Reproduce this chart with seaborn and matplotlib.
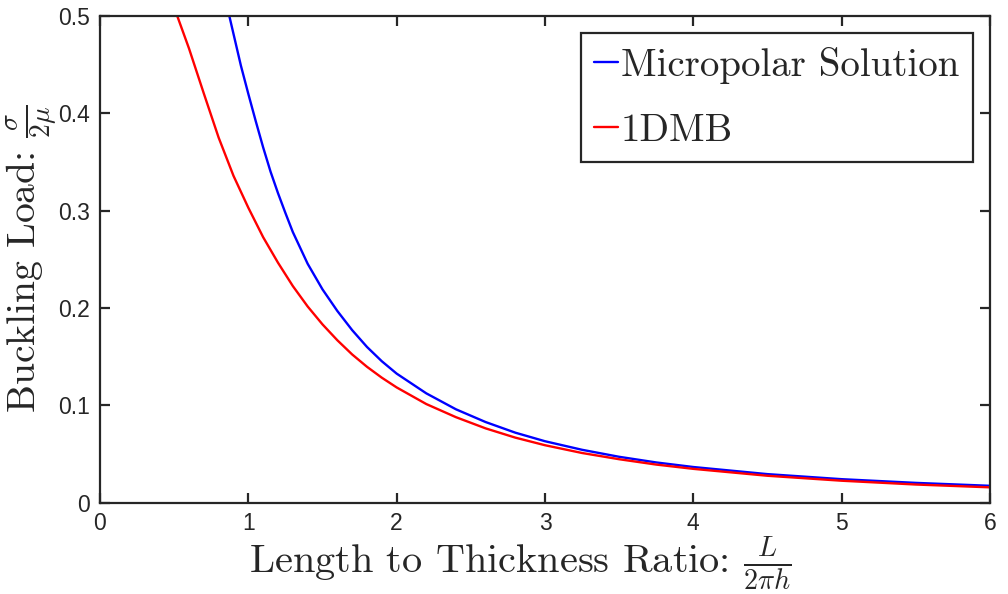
import numpy as np
import pandas as pd
import matplotlib
matplotlib.use("Agg")
import matplotlib.pyplot as plt
from matplotlib.ticker import FuncFormatter, MultipleLocator
import seaborn as sns

# Buckling load sigma/(2 mu) versus length-to-thickness ratio L/(2 pi h)
micropolar_x = [0.872, 0.95, 1.0, 1.05, 1.1, 1.15, 1.2, 1.25, 1.3, 1.4,
                1.5, 1.6, 1.7, 1.8, 1.9, 2.0, 2.2, 2.4, 2.6, 2.8,
                3.0, 3.25, 3.5, 3.75, 4.0, 4.5, 5.0, 5.5, 6.0]
micropolar_y = [0.500, 0.449, 0.420, 0.392, 0.365, 0.340, 0.318, 0.2976, 0.278, 0.2454,
                0.2191, 0.1969, 0.1772, 0.1599, 0.1452, 0.1325, 0.1122, 0.0958, 0.0827, 0.0718,
                0.0630, 0.0542, 0.0470, 0.0412, 0.0365, 0.0292, 0.0240, 0.0202, 0.0172]

dmb_x = [0.521, 0.6, 0.7, 0.8, 0.9, 1.0, 1.1, 1.2, 1.3, 1.4,
         1.5, 1.6, 1.7, 1.8, 1.9, 2.0, 2.2, 2.4, 2.6, 2.8,
         3.0, 3.25, 3.5, 3.75, 4.0, 4.5, 5.0, 5.5, 6.0]
dmb_y = [0.500, 0.4667, 0.4204, 0.375, 0.3358, 0.303, 0.2727, 0.2465, 0.2225, 0.2015,
         0.1831, 0.1668, 0.1522, 0.1395, 0.1283, 0.1183, 0.1012, 0.0877, 0.0762, 0.0667,
         0.0589, 0.0509, 0.0445, 0.0390, 0.0346, 0.0275, 0.0224, 0.0185, 0.0156]

series_names = ["Micropolar Solution", "1DMB"]
series_colors = ["#0000ff", "#ff0000"]

df = pd.concat([
    pd.DataFrame({"ratio": micropolar_x, "load": micropolar_y, "model": series_names[0]}),
    pd.DataFrame({"ratio": dmb_x, "load": dmb_y, "model": series_names[1]}),
], ignore_index=True)

sns.set_theme(style="ticks")
plt.rcParams.update({
    "font.family": ["Liberation Sans", "DejaVu Sans"],
    "mathtext.fontset": "cm",
    "axes.edgecolor": "#262626",
    "axes.linewidth": 1.6,
    "xtick.color": "#262626",
    "ytick.color": "#262626",
    "xtick.direction": "in",
    "ytick.direction": "in",
    "xtick.major.size": 7,
    "ytick.major.size": 7,
    "xtick.major.width": 1.6,
    "ytick.major.width": 1.6,
    "xtick.top": True,
    "ytick.right": True,
})

fig = plt.figure(figsize=(10.08, 5.94), dpi=100)
ax = fig.add_axes([0.0992, 0.154, 0.8829, 0.819])

sns.lineplot(data=df, x="ratio", y="load", hue="model", hue_order=series_names,
             palette=series_colors, linewidth=1.7, sort=False, estimator=None, ax=ax)

ax.set_xlim(0, 6)
ax.set_ylim(0, 0.5)
ax.xaxis.set_major_locator(MultipleLocator(1))
ax.yaxis.set_major_locator(MultipleLocator(0.1))
ax.yaxis.set_major_formatter(FuncFormatter(lambda v, p: f"{v:g}"))
ax.tick_params(axis="both", labelsize=16.5, pad=7, colors="#262626")
for s in ax.spines.values():
    s.set_visible(True)

ax.set_xlabel(r"Length to Thickness Ratio: $\frac{L}{2\pi h}$",
              fontfamily="cmr10", fontsize=29, color="#262626", labelpad=0)
ax.xaxis.label.set_x(0.473)
ax.set_ylabel(r"Buckling Load: $\frac{\sigma}{2\mu}$",
              fontfamily="cmr10", fontsize=28.5, color="#262626", labelpad=-1)

leg = ax.legend(loc="upper right", frameon=True, fancybox=False, shadow=False,
                handlelength=0.6, handletextpad=0.08, labelspacing=0.75,
                borderpad=0.35, borderaxespad=0.44,
                prop={"family": "cmr10", "size": 28})
leg.get_frame().set_edgecolor("#262626")
leg.get_frame().set_linewidth(1.6)
leg.get_frame().set_facecolor("white")
leg.get_frame().set_alpha(1)

fig.savefig("out.png", dpi=100, facecolor="white")
